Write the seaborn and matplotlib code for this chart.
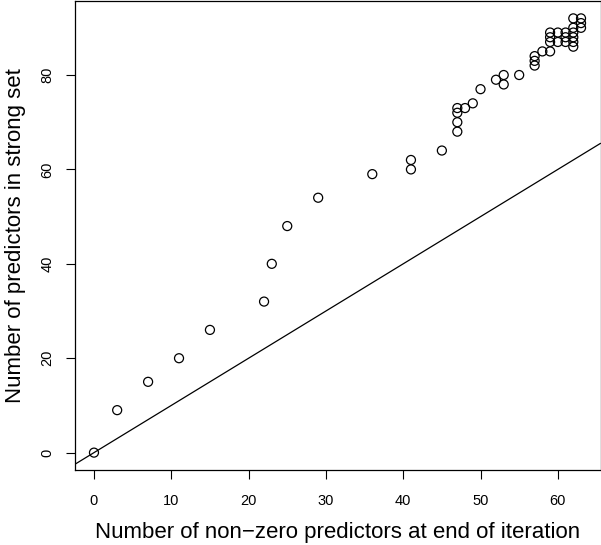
import matplotlib
matplotlib.use("Agg")
import matplotlib.pyplot as plt
import seaborn as sns
import pandas as pd

nonzero = [0, 3, 7, 11, 15, 22, 23, 25, 29, 36, 41, 41, 45,
           47, 47, 47, 47, 48, 49, 50, 52, 53, 53, 55,
           57, 57, 57, 58, 59, 59, 59, 59, 60, 60,
           61, 61, 61, 62, 62, 62, 62, 62, 62, 63, 63, 63]
strong = [0, 9, 15, 20, 26, 32, 40, 48, 54, 59, 60, 62, 64,
          68, 70, 72, 73, 73, 74, 77, 79, 78, 80, 80,
          82, 83, 84, 85, 85, 87, 88, 89, 87, 89,
          87, 88, 89, 86, 87, 88, 89, 90, 92, 90, 91, 92]

x_ticks = [0, 10, 20, 30, 40, 50, 60]
y_ticks = [0, 20, 40, 60, 80]

df = pd.DataFrame({"nonzero": nonzero, "strong": strong})

sns.set_theme(style="ticks")
plt.rcParams["font.family"] = ["Liberation Sans", "DejaVu Sans"]

W, H = 601, 545
fig = plt.figure(figsize=(W / 100, H / 100), dpi=100)
ax = fig.add_axes([74.5 / W, 75 / H, 526 / W, 469 / H])

sns.scatterplot(data=df, x="nonzero", y="strong", ax=ax, marker="o", s=42,
                facecolor="none", edgecolor="black", linewidth=0.9, legend=False)
ax.axline((0, 0), slope=1, color="black", linewidth=0.9)

ax.set_xlim(-2.52, 65.52)
ax.set_ylim(-3.68, 95.68)
ax.set_xticks(x_ticks)
ax.set_yticks(y_ticks)
ax.tick_params(axis="both", direction="out", length=6.5, width=0.8, color="black",
               labelsize=10.5, labelcolor="black")
ax.tick_params(axis="x", pad=11)
ax.tick_params(axis="y", pad=8)
for lab in ax.get_yticklabels():
    lab.set_rotation(90)
    lab.set_va("center")
for sp in ax.spines.values():
    sp.set_visible(True)
    sp.set_color("black")
    sp.set_linewidth(0.9)

ax.set_xlabel("Number of non\u2212zero predictors at end of iteration", fontsize=16,
              color="black", labelpad=10)
ax.set_ylabel("Number of predictors in strong set", fontsize=16, color="black",
              labelpad=10)

fig.savefig("out.png", dpi=100)
